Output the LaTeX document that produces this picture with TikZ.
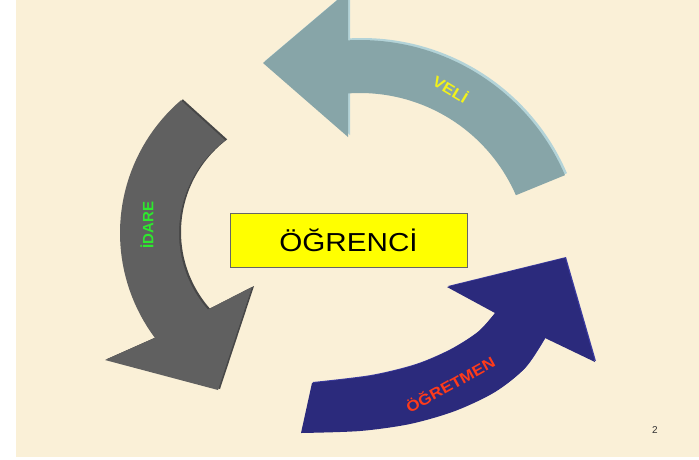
\documentclass[tikz,border=0pt]{standalone}
\usepackage{fontspec}
\setmainfont{Liberation Sans}
\usepackage{graphicx}
\usepackage{pdfrender}
\definecolor{bgc}{HTML}{FAF0D7}
\definecolor{tealc}{HTML}{87A5A8}
\definecolor{tealx}{HTML}{B3D3D8}
\definecolor{grayc}{HTML}{606060}
\definecolor{grayx}{HTML}{474747}
\definecolor{navyc}{HTML}{2B2A7C}
\definecolor{navyx}{HTML}{3C3CA0}
\definecolor{boxc}{HTML}{FFFF00}
\definecolor{velic}{HTML}{F2F21A}
\definecolor{idarec}{HTML}{2EE82E}
\definecolor{ogretc}{HTML}{FF3B1A}
\newcommand\edgetext[2]{\textpdfrender{TextRenderingMode=FillStroke,LineWidth=0.35,StrokeColor=#1}{#2}}
\begin{document}
\begin{tikzpicture}[x=1pt,y=-1pt,
  lbl/.style={font=\fontsize{15}{15}\selectfont\bfseries, inner sep=0pt},
  centerbox/.style={draw=black!60, line width=0.8pt, fill=boxc, minimum width=237pt, minimum height=54pt, inner sep=0pt, font=\fontsize{26}{26}\selectfont}
]
\useasboundingbox (0,0) rectangle (699,459);
\fill[white] (0,0) rectangle (699,459);
\fill[bgc] (16,0) rectangle (699,457);

\def\veliPath{(263,63) -- (348,-9) -- plot[domain=93.08:23.2, samples=40] ({360+223*cos(\x)},{263-223*sin(\x)}) -- plot[domain=23.5:94.05, samples=40] ({360+170*cos(\x)},{263-170*sin(\x)}) -- (348,137) -- cycle}
\def\idarePath{plot[domain=130.7:216.8, samples=40] ({295+175*cos(\x)},{233-175*sin(\x)}) -- (105,360) -- (218,390) -- (252,287) -- plot[domain=221.3:127, samples=40] ({295+116*cos(\x)},{233-116*sin(\x)}) -- cycle}
\def\ogretPath{(312,383) -- (301,433) -- plot[smooth] coordinates {(301,433)(360,431)(410,424)(455,411)(495,392)(525,368)(545,338)} -- (595,362) -- (565,258) -- (447,287) -- (495,313) -- plot[smooth] coordinates {(495,313)(478,332)(450,350)(415,365)(370,376)(312,383)} -- cycle}

% extrusions
\fill[tealx, xshift=2pt, yshift=2pt] \veliPath;
\fill[grayx, xshift=2pt, yshift=1pt] \idarePath;
\fill[navyx, xshift=1pt, yshift=1pt] \ogretPath;
% arrows
\fill[tealc] \veliPath;
\fill[grayc] \idarePath;
\fill[navyc] \ogretPath;

% labels
\node[lbl, text=velic, rotate=-31] (veli) at (451,89) {\scalebox{1.14}[1]{\edgetext{black!70}{VELİ}}};
\node[lbl, text=idarec, rotate=90] (idare) at (147,225) {\edgetext{black!60}{İDARE}};
\node[lbl, text=ogretc, rotate=29] (ogret) at (450,384) {\scalebox{1.14}[1]{\edgetext{red!40!black}{ÖĞRETMEN}}};

% center box
\node[centerbox] (ogrenci) at (348.5,240) {\scalebox{1.14}[1]{ÖĞRENCİ}};

% page number
\node[font=\fontsize{10}{10}\selectfont, text=black!80] (page) at (655,430) {2};
\end{tikzpicture}
\end{document}
